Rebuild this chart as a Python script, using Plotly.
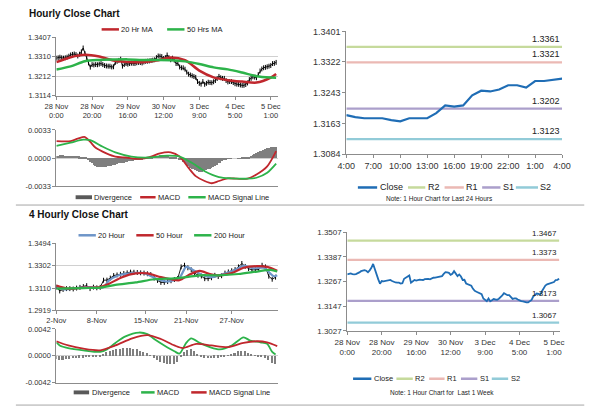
import plotly.graph_objects as go

W, H = 600, 413
def px(x): return x / W
def py(y): return 1 - y / H

FONT = "Liberation Sans"
RED = "#c0272d"
GREEN = "#2db34a"
BLUE20 = "#6e95c8"
GRAY = "#7f7f7f"
CLOSE_BLUE = "#1f6db5"
LEVEL_COLORS = ["#c6da9c", "#ebb9b4", "#ab9fcb", "#92cbd8"]

# ---------------- Hourly (last week) ----------------
hourly_ticks = [0, 20, 40, 60, 80, 100, 120]
hourly_ticklabels = ["28 Nov<br>0:00", "28 Nov<br>20:00", "29 Nov<br>16:00", "30 Nov<br>12:00",
                     "3 Dec<br>9:00", "4 Dec<br>5:00", "5 Dec<br>1:00"]
hourly_close = [
    1.3302, 1.3304, 1.3307, 1.3304, 1.3302, 1.3304, 1.3307, 1.3312, 1.3318, 1.3321,
    1.3323, 1.3320, 1.3313, 1.3322, 1.3334, 1.3353, 1.3325, 1.3300, 1.3278, 1.3257,
    1.3270, 1.3268, 1.3270, 1.3269, 1.3272, 1.3275, 1.3270, 1.3265, 1.3263, 1.3262,
    1.3262, 1.3258, 1.3259, 1.3281, 1.3286, 1.3291, 1.3297, 1.3262, 1.3270, 1.3275,
    1.3272, 1.3275, 1.3277, 1.3276, 1.3275, 1.3279, 1.3281, 1.3280, 1.3278, 1.3283,
    1.3286, 1.3287, 1.3288, 1.3290, 1.3292, 1.3294, 1.3305, 1.3313, 1.3312, 1.3310,
    1.3300, 1.3305, 1.3318, 1.3305, 1.3294, 1.3302, 1.3292, 1.3275, 1.3276, 1.3258,
    1.3254, 1.3254, 1.3247, 1.3232, 1.3222, 1.3218, 1.3214, 1.3210, 1.3206, 1.3185,
    1.3176, 1.3172, 1.3185, 1.3171, 1.3176, 1.3182, 1.3180, 1.3179, 1.3184, 1.3190,
    1.3200, 1.3211, 1.3204, 1.3201, 1.3201, 1.3190, 1.3183, 1.3185, 1.3185, 1.3180,
    1.3174, 1.3172, 1.3171, 1.3168, 1.3166, 1.3166, 1.3170, 1.3178, 1.3195, 1.3201,
    1.3209, 1.3207, 1.3204, 1.3220, 1.3238, 1.3248, 1.3254, 1.3256, 1.3259, 1.3262,
    1.3265, 1.3275, 1.3276, 1.3281]
hourly_idx = list(range(len(hourly_close)))

ma_hr_idx = [0, 8, 16, 24, 32, 40, 48, 56, 64, 72, 80, 88, 96, 104, 112, 120, 123]
ma20_hr = [1.3282, 1.3307, 1.3319, 1.3310, 1.3290, 1.3283, 1.3282, 1.3290, 1.3306, 1.3292,
           1.3240, 1.3206, 1.3192, 1.3185, 1.3180, 1.3205, 1.3223]
ma50_hr = [1.3245, 1.3261, 1.3287, 1.3293, 1.3295, 1.3296, 1.3293, 1.3293, 1.3292, 1.3286,
           1.3273, 1.3256, 1.3246, 1.3230, 1.3212, 1.3205, 1.3204]

macd_hr_idx = [0, 8, 12, 16, 19, 22, 28, 33, 39, 47, 53, 58, 64, 69, 74, 78, 83, 87, 91, 96,
               101, 107, 112, 118, 123]
macd_hr = [0.0020, 0.0020, 0.00228, 0.00247, 0.0019, 0.00121, 0.00057, 0.00019, 0.00008, -0.00008,
           0.00019, 0.00057, 0.00068, 0.00019, -0.00114, -0.00209, -0.00266, -0.00292, -0.00266,
           -0.00235, -0.00239, -0.00239, -0.0019, -0.00095, 0.00083]
signal_hr_idx = [0, 8, 15, 19, 26, 33, 42, 51, 62, 69, 76, 83, 91, 98, 107, 112, 118, 123]
signal_hr = [0.00144, 0.00182, 0.00216, 0.0021, 0.00133, 0.00068, 0.00019, 0.00008, 0.0003,
             0.00019, -0.00057, -0.00152, -0.0022, -0.00235, -0.00239, -0.00228, -0.0017, -0.00064]
div_hr = [
    0.00030, 0.00032, 0.00034, 0.00035, 0.00033, 0.00030, 0.00030, 0.00028, 0.00026, 0.00025,
    0.00024, 0.00025, 0.00026, 0.00022, 0.00020, 0.00018, 0.00012, 0.00005,
    -0.0002, -0.0004, -0.0006, -0.0008, -0.0009, -0.0010, -0.0010, -0.0010, -0.0010, -0.0010,
    -0.0010, -0.0009, -0.0009, -0.0009, -0.0008, -0.0008, -0.0007, -0.0006, -0.0006, -0.0005,
    -0.0005, -0.0004, -0.0004, -0.0003, -0.0003, -0.0003, -0.0002, -0.0002, -0.0002, -0.0001,
    -0.0001, -0.00005, 0.0,
    0.00005, 0.0001, 0.00015, 0.0002, 0.00025, 0.0003, 0.00032, 0.00035, 0.00035, 0.00033,
    0.0003, 0.00028, 0.00025, 0.0002, 0.00015, 0.0001, 0.00005, 0.0, -0.0001,
    -0.0002, -0.0004, -0.0006, -0.0008, -0.0009, -0.0011, -0.0012, -0.0013, -0.0014, -0.0015,
    -0.0016, -0.0016, -0.0016, -0.0015, -0.0014, -0.0013, -0.0012, -0.0011, -0.0010, -0.0009,
    -0.0008, -0.0006, -0.0005, -0.0003, -0.0002, -0.0001,
    -0.00005, -0.00003, -0.00002, 0, 0, 0, 0.00002, 0.00003, 0.00005, 0.00008, 0.0001, 0.00015,
    0.0002, 0.0003, 0.0004, 0.0005, 0.0006, 0.0007, 0.0008, 0.0009, 0.0010, 0.0011, 0.0012,
    0.0012, 0.0013, 0.0013, 0.0013, 0.0013]

price_hr_ticks = [1.3114, 1.3212, 1.3310, 1.3407]
macd_hr_ticks = [-0.0033, 0.0, 0.0033]

# ---------------- Last 24 hours ----------------
h24_labels = ["4:00", "7:00", "10:00", "13:00", "16:00", "19:00", "22:00", "1:00", "4:00"]
h24_tickpos = [0, 3, 6, 9, 12, 15, 18, 21, 24]
close_24h = [1.3185, 1.3180, 1.3177, 1.3177, 1.3177, 1.3172, 1.3169, 1.3177, 1.3177, 1.3177,
             1.3190, 1.3210, 1.3207, 1.3210, 1.3236, 1.3248, 1.3246, 1.3251, 1.3262, 1.3262,
             1.3256, 1.3273, 1.3273, 1.3276, 1.3279]
level_names = ["R2", "R1", "S1", "S2"]
levels_24h = [1.3361, 1.3321, 1.3202, 1.3123]
price_24h_ticks = [1.3084, 1.3163, 1.3243, 1.3322, 1.3401]

levels_1w = [1.3467, 1.3373, 1.3173, 1.3067]
price_1w_ticks = [1.3027, 1.3147, 1.3267, 1.3387, 1.3507]

# ---------------- 4 Hourly ----------------
h4_ticks = [0, 24, 53, 77, 104]
h4_ticklabels = ["2-Nov", "8-Nov", "15-Nov", "21-Nov", "27-Nov"]
h4_idx = list(range(0, 132, 2))
close_4h = [1.3118, 1.3085, 1.3098, 1.3105, 1.3105, 1.3102, 1.3110, 1.3116, 1.3123, 1.3131,
            1.3105, 1.3118, 1.3112, 1.3116, 1.3177, 1.3178, 1.3195, 1.3217, 1.3222, 1.3228,
            1.3235, 1.3240, 1.3246, 1.3245, 1.3243, 1.3240, 1.3238, 1.3232, 1.3225, 1.3195,
            1.3175, 1.3158, 1.3158, 1.3165, 1.3172, 1.3183, 1.3192, 1.3291, 1.3305, 1.3283,
            1.3265, 1.3238, 1.3219, 1.3213, 1.3190, 1.3190, 1.3198, 1.3219, 1.3208, 1.3215,
            1.3238, 1.3248, 1.3258, 1.3268, 1.3291, 1.3320, 1.3295, 1.3276, 1.3265, 1.3266,
            1.3268, 1.3305, 1.3291, 1.3211, 1.3185, 1.3203]
ma20_4h_idx = [0, 5, 12, 20, 28, 31, 37, 45, 52, 60, 66, 73, 77, 81, 87, 92, 98, 106, 111, 117,
               123, 129, 131]
ma20_4h = [1.3118, 1.3099, 1.3110, 1.3118, 1.3118, 1.3171, 1.3219, 1.3238, 1.3238, 1.3185,
           1.3166, 1.3198, 1.3291, 1.3265, 1.3219, 1.3203, 1.3225, 1.3265, 1.3299, 1.3278,
           1.3283, 1.3211, 1.3219]
ma50_4h_idx = [0, 7, 16, 26, 31, 39, 47, 54, 62, 68, 73, 79, 85, 91, 96, 104, 111, 119, 125, 131]
ma50_4h = [1.3131, 1.3105, 1.3113, 1.3118, 1.3145, 1.3203, 1.3235, 1.3235, 1.3203, 1.3185,
           1.3177, 1.3225, 1.3257, 1.3230, 1.3219, 1.3238, 1.3283, 1.3297, 1.3291, 1.3257]
ma200_4h_idx = [0, 16, 26, 35, 47, 58, 70, 77, 85, 96, 108, 119, 127, 131]
ma200_4h = [1.3105, 1.3110, 1.3113, 1.3137, 1.3158, 1.3185, 1.3193, 1.3203, 1.3219, 1.3219,
            1.3230, 1.3251, 1.3265, 1.3251]
macd_4h_idx = [0, 2, 7, 16, 26, 30, 35, 41, 49, 54, 58, 64, 70, 73, 77, 80, 85, 91, 97, 104,
               111, 115, 121, 125, 128, 130]
macd_4h = [0.00210, 0.00162, 0.00121, 0.00086, 0.00061, 0.00101, 0.00202, 0.00304, 0.00364,
           0.00339, 0.00263, 0.00162, 0.00071, 0.00035, 0.00202, 0.00273, 0.00202, 0.00137,
           0.00101, 0.00162, 0.00288, 0.00238, 0.00212, 0.00187, 0.00061, 0.00020]
signal_4h_idx = [0, 7, 16, 26, 35, 45, 54, 62, 70, 75, 83, 92, 102, 111, 119, 125, 131]
signal_4h = [0.00228, 0.00162, 0.00111, 0.00086, 0.00162, 0.00273, 0.00324, 0.00263, 0.00162,
             0.00121, 0.00187, 0.00162, 0.00137, 0.00202, 0.00228, 0.00212, 0.00152]
div_4h = [-0.0005, -0.0006, -0.0006, -0.0005, -0.0005, -0.0004, -0.0004, -0.0003, -0.0003, -0.0002,
          -0.0002, -0.0002, -0.0001, -0.0001, 0.0003, 0.0006, 0.0008, 0.0009, 0.0010, 0.0011,
          0.0012, 0.0012, 0.0012, 0.0011, 0.0010, 0.0008, 0.0006, 0.0004, 0.0001, -0.0003,
          -0.0006, -0.0009, -0.0011, -0.0013, -0.0013, -0.0012, -0.0009, -0.0002, 0.0006, 0.0009,
          0.0010, 0.0007, 0.0003, -0.0001, -0.0003, -0.0004, -0.0004, -0.0003, -0.0003, -0.0002,
          -0.0001, 0.0001, 0.0003, 0.0005, 0.0007, 0.0008, 0.0007, 0.0004, 0.0002, 0.0001,
          -0.0001, -0.0002, -0.0003, -0.0007, -0.0011, -0.0013]
price_4h_ticks = [1.2919, 1.3110, 1.3302, 1.3494]
macd_4h_ticks = [-0.0042, 0.0, 0.0042]

fig = go.Figure()

def line(x, y, color, width, xa, ya, spline=True):
    fig.add_trace(go.Scatter(
        x=x, y=y, mode="lines", xaxis=xa, yaxis=ya, showlegend=False, hoverinfo="skip",
        line=dict(color=color, width=width, shape="spline" if spline else "linear", smoothing=0.8)))

def bars_ohlc(x, y, xa, ya):
    fig.add_trace(go.Scatter(x=x, y=y, mode="lines+markers", xaxis=xa, yaxis=ya,
                             line=dict(color="black", width=0.9),
                             marker=dict(symbol="line-ns", size=3.5, line=dict(color="black", width=1)),
                             showlegend=False, hoverinfo="skip"))

# Hourly price panel
bars_ohlc(hourly_idx, hourly_close, "x", "y")
line(ma_hr_idx, ma20_hr, RED, 2.5, "x", "y")
line(ma_hr_idx, ma50_hr, GREEN, 2.5, "x", "y")

# Hourly MACD panel
fig.add_trace(go.Bar(x=hourly_idx, y=div_hr, xaxis="x2", yaxis="y2", showlegend=False,
                     marker=dict(color=GRAY, line=dict(width=0)), width=0.45, hoverinfo="skip"))
line(macd_hr_idx, macd_hr, RED, 1.8, "x2", "y2")
line(signal_hr_idx, signal_hr, GREEN, 1.8, "x2", "y2")

# Last 24 hours panel
h24_idx = list(range(len(close_24h)))
for lv, c in zip(levels_24h, LEVEL_COLORS):
    line([h24_idx[0], h24_idx[-1]], [lv, lv], c, 2.2, "x3", "y3", spline=False)
line(h24_idx, close_24h, CLOSE_BLUE, 2.2, "x3", "y3", spline=False)

# Last week panel
for lv, c in zip(levels_1w, LEVEL_COLORS):
    line([hourly_idx[0], hourly_idx[-1]], [lv, lv], c, 2.2, "x6", "y6", spline=False)
line(hourly_idx, hourly_close, CLOSE_BLUE, 1.8, "x6", "y6", spline=False)

# 4 hourly price panel
bars_ohlc(h4_idx, close_4h, "x4", "y4")
line(ma20_4h_idx, ma20_4h, BLUE20, 2.2, "x4", "y4")
line(ma50_4h_idx, ma50_4h, RED, 2.2, "x4", "y4")
line(ma200_4h_idx, ma200_4h, GREEN, 2.2, "x4", "y4")

# 4 hourly MACD panel
fig.add_trace(go.Bar(x=h4_idx, y=div_4h, xaxis="x5", yaxis="y5", showlegend=False,
                     marker=dict(color=GRAY, line=dict(width=0)), width=0.9, hoverinfo="skip"))
line(macd_4h_idx, macd_4h, GREEN, 1.8, "x5", "y5")
line(signal_4h_idx, signal_4h, RED, 1.8, "x5", "y5")

def tf(size): return dict(family=FONT, size=size, color="#333333")
def yfmt(v): return "%.4f" % v

def xax(domain, rng, tickvals, ticktext, anchor, size=7.5, show_labels=True):
    return dict(domain=domain, range=rng, tickvals=tickvals, ticktext=ticktext, anchor=anchor,
                showgrid=False, zeroline=False, showline=True, linecolor="#8c8c8c", linewidth=1,
                ticks="outside" if show_labels else "", ticklen=3, tickcolor="#8c8c8c",
                tickfont=tf(size), showticklabels=show_labels, fixedrange=True)

def yax(domain, ticks, anchor, size=7.5, grid=True):
    return dict(domain=domain, range=[ticks[0], ticks[-1]], tickvals=ticks,
                ticktext=[yfmt(t) for t in ticks], anchor=anchor,
                showgrid=grid, gridcolor="#d0d0d0", gridwidth=1, zeroline=False,
                showline=True, linecolor="#8c8c8c", linewidth=1, ticks="outside", ticklen=3,
                tickcolor="#8c8c8c", tickfont=tf(size), fixedrange=True)

LX = [px(45), px(275)]
layout = dict(
    width=W, height=H, autosize=False, margin=dict(l=0, r=0, t=0, b=0),
    paper_bgcolor="white", plot_bgcolor="white", bargap=0, showlegend=False,
    font=dict(family=FONT, size=8, color="#222222"),
    xaxis=xax(LX, [0, 124], hourly_ticks, hourly_ticklabels, "y"),
    yaxis=yax([py(93), py(33)], price_hr_ticks, "x"),
    xaxis2=xax(LX, [0, 124], hourly_ticks, hourly_ticklabels, "y2", show_labels=False),
    yaxis2=yax([py(186), py(128)], macd_hr_ticks, "x2"),
    xaxis3=xax([px(346), px(570)], [0, 24], h24_tickpos, h24_labels, "y3", size=9),
    yaxis3=yax([py(153), py(27)], price_24h_ticks, "x3", size=9, grid=False),
    xaxis4=xax(LX, [0, 131.4], h4_ticks, h4_ticklabels, "y4"),
    yaxis4=yax([py(313), py(244)], price_4h_ticks, "x4"),
    xaxis5=xax(LX, [0, 131.4], h4_ticks, h4_ticklabels, "y5", show_labels=False),
    yaxis5=yax([py(387), py(332)], macd_4h_ticks, "x5"),
    xaxis6=xax([px(347), px(568)], [0, 123.6], hourly_ticks, hourly_ticklabels, "y6", size=8),
    yaxis6=yax([py(334), py(233)], price_1w_ticks, "x6", size=8, grid=False),
)

annotations = [
    dict(text="<b>Hourly Close Chart</b>", x=px(15), y=py(9), xref="paper", yref="paper",
         xanchor="left", yanchor="middle", showarrow=False, font=dict(family=FONT, size=10, color="#111")),
    dict(text="<b>4 Hourly Close Chart</b>", x=px(15), y=py(215), xref="paper", yref="paper",
         xanchor="left", yanchor="middle", showarrow=False, font=dict(family=FONT, size=10, color="#111")),
    dict(text="Note: 1 Hour Chart for Last 24 Hours", x=px(443), y=py(198), xref="paper", yref="paper",
         xanchor="center", yanchor="middle", showarrow=False, font=dict(family=FONT, size=6.5, color="#222")),
    dict(text="Note: 1 Hour Chart for  Last 1 Week", x=px(445), y=py(397), xref="paper", yref="paper",
         xanchor="center", yanchor="middle", showarrow=False, font=dict(family=FONT, size=6.5, color="#222")),
]
for lv in levels_24h:
    annotations.append(dict(text="%.4f" % lv, x=h24_idx[-1], y=lv, xref="x3", yref="y3",
                            xanchor="right", yanchor="bottom", showarrow=False, yshift=1,
                            font=dict(family=FONT, size=9, color="#222")))
for lv in levels_1w:
    annotations.append(dict(text="%.4f" % lv, x=hourly_idx[-1], y=lv, xref="x6", yref="y6",
                            xanchor="right", yanchor="bottom", showarrow=False, yshift=1,
                            font=dict(family=FONT, size=8, color="#222")))

shapes = [
    dict(type="line", xref="paper", yref="paper", x0=px(3), x1=px(593), y0=py(205), y1=py(205),
         line=dict(color="#a6a6a6", width=1)),
    dict(type="line", xref="paper", yref="paper", x0=px(3), x1=px(593), y0=py(410), y1=py(410),
         line=dict(color="#a6a6a6", width=1)),
]

# compact legends: (kind, colour, symbol x0, symbol x1, label)
def legend(yc, items, size):
    for kind, color, x0, x1, label in items:
        if kind == "bar":
            shapes.append(dict(type="rect", xref="paper", yref="paper", x0=px(x0), x1=px(x1),
                               y0=py(yc + 2), y1=py(yc - 2), fillcolor="#595959", line=dict(width=0)))
        else:
            shapes.append(dict(type="line", xref="paper", yref="paper", x0=px(x0), x1=px(x1),
                               y0=py(yc), y1=py(yc), line=dict(color=color, width=2.5)))
        annotations.append(dict(text=label, x=px(x1 + 0.5), y=py(yc), xref="paper", yref="paper",
                                xanchor="left", yanchor="middle", showarrow=False,
                                font=dict(family=FONT, size=size, color="#222")))

legend(25, [("line", RED, 92, 110, "20 Hr MA"), ("line", GREEN, 160, 178, "50 Hrs MA")], 7.5)
legend(197, [("bar", GRAY, 65, 82, "Divergence"), ("line", RED, 132, 148, "MACD"),
             ("line", GREEN, 182, 200, "MACD Signal Line")], 7.5)
legend(187, [("line", CLOSE_BLUE, 358, 378, "Close"), ("line", LEVEL_COLORS[0], 410, 428, "R2"),
             ("line", LEVEL_COLORS[1], 448, 468, "R1"), ("line", LEVEL_COLORS[2], 487, 506, "S1"),
             ("line", LEVEL_COLORS[3], 522, 545, "S2")], 9)
legend(236, [("line", BLUE20, 68, 86, "20 Hour"), ("line", RED, 128, 146, "50 Hour"),
             ("line", GREEN, 188, 206, "200 Hour")], 7.5)
legend(397, [("bar", GRAY, 63, 79, "Divergence"), ("line", GREEN, 133, 147, "MACD"),
             ("line", RED, 185, 201, "MACD Signal Line")], 7.5)
legend(383, [("line", CLOSE_BLUE, 353, 372, "Close"), ("line", LEVEL_COLORS[0], 398, 415, "R2"),
             ("line", LEVEL_COLORS[1], 432, 448, "R1"), ("line", LEVEL_COLORS[2], 465, 482, "S1"),
             ("line", LEVEL_COLORS[3], 497, 514, "S2")], 7.5)

layout["annotations"] = annotations
layout["shapes"] = shapes

fig.update_layout(**layout)
fig.write_html("out.html", config={"displayModeBar": False},
               post_script="document.body.style.margin='0';")
